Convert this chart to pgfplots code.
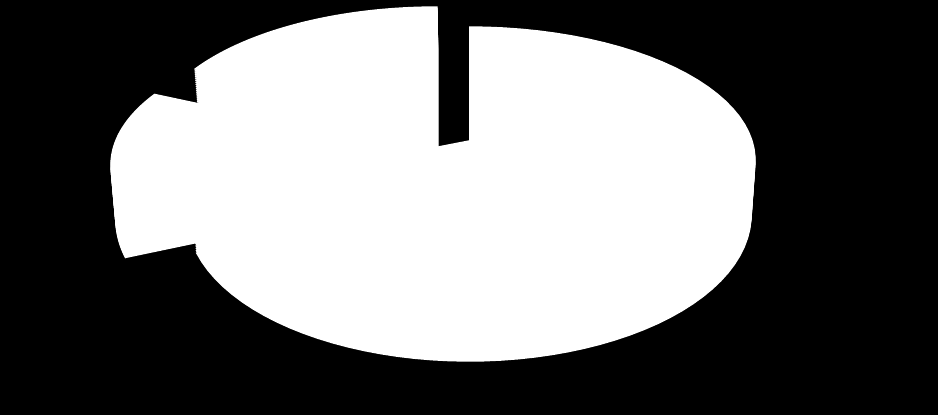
\documentclass[border=0pt]{standalone}
\usepackage{pgfplots}
\usepackage{pgfplotstable}
\pgfplotsset{compat=1.18}

% slice shares (percent) and the centre of each exploded slice (pixels)
\pgfplotstableread{
slice value cx cy
A 70.8 469 160
B 16.1 437 140
C 13.1 397 165
}\piedata

% #1 cx, #2 cy, #3 start angle, #4 end angle
% the slice is drawn at 26 heights so that the copies make up its side wall
\newcommand{\pieslice}[4]{%
  \pgfplotsinvokeforeach{0,...,25}{%
    \addplot[draw=white, fill=white, line width=0.4pt,
      domain=-1:72, samples=74, variable=\u]
      ({ifthenelse(\u<0,
          469+(#1-469)*(1-0.014*##1/25),
          469+(#1-469)*(1-0.014*##1/25)+286*(1-0.014*##1/25)*cos(#3+(#4-#3)*\u/72))},
       {ifthenelse(\u<0,
          #2+55*##1/25-19,
          #2+55*##1/25-(133+13*##1/25)*sin(#3+(#4-#3)*\u/72))});
  }%
}

\begin{document}
\begin{tikzpicture}
\pgfplotstablegetelem{0}{value}\of\piedata \let\vA\pgfplotsretval
\pgfplotstablegetelem{1}{value}\of\piedata \let\vB\pgfplotsretval
\pgfplotstablegetelem{2}{value}\of\piedata \let\vC\pgfplotsretval
\pgfmathsetmacro\tB{90+3.6*\vB}
\pgfmathsetmacro\tC{\tB+3.6*\vC}
\pgfmathsetmacro\tA{\tC+3.6*\vA}
\begin{axis}[
  width=9.38cm, height=4.15cm, scale only axis,
  xmin=0, xmax=938, ymin=0, ymax=415, y dir=reverse,
  axis line style={draw=none}, ticks=none,
  axis background/.style={fill=black}]
  \pieslice{469}{160}{\tC}{\tA}
  \pieslice{437}{140}{90}{\tB}
  \pieslice{397}{165}{\tB}{\tC}
\end{axis}
\end{tikzpicture}
\end{document}
